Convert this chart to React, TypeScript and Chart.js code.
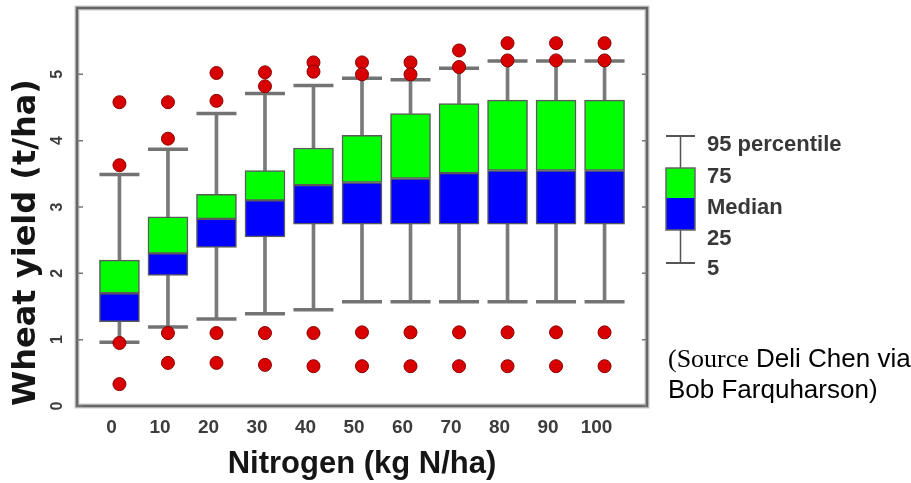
import React, { useEffect, useRef } from "react";
import { Chart, registerables } from "chart.js";
Chart.register(...registerables);

// ---- data ----
const nitrogen = [0, 10, 20, 30, 40, 50, 60, 70, 80, 90, 100];
const p5 = [0.96, 1.19, 1.31, 1.39, 1.45, 1.57, 1.57, 1.57, 1.57, 1.57, 1.57];
const q1 = [1.27, 1.97, 2.39, 2.55, 2.74, 2.74, 2.74, 2.74, 2.74, 2.74, 2.74];
const median = [1.7, 2.3, 2.82, 3.1, 3.33, 3.37, 3.43, 3.51, 3.55, 3.55, 3.55];
const q3 = [2.2, 2.85, 3.19, 3.55, 3.89, 4.08, 4.41, 4.56, 4.61, 4.61, 4.61];
const p95 = [3.49, 3.87, 4.41, 4.71, 4.83, 4.94, 4.92, 5.09, 5.2, 5.2, 5.2];
const outliers = [
  [4.58, 3.63, 0.95, 0.33],
  [4.58, 4.03, 1.1, 0.65],
  [5.02, 4.6, 1.1, 0.65],
  [5.03, 4.82, 1.1, 0.62],
  [5.18, 5.04, 1.1, 0.6],
  [5.18, 5.0, 1.11, 0.6],
  [5.18, 5.0, 1.11, 0.6],
  [5.36, 5.11, 1.11, 0.6],
  [5.47, 5.21, 1.11, 0.6],
  [5.47, 5.21, 1.11, 0.6],
  [5.47, 5.21, 1.11, 0.6],
];
const yTicks = [0, 1, 2, 3, 4, 5];
const legendLabels = ["95 percentile", "75", "Median", "25", "5"];
const xTitle = "Nitrogen (kg N/ha)";
const yTitle = "Wheat yield (t/ha)";

const framePlugin = {
  id: "frame",
  beforeDatasetsDraw(chart: any) {
    const { ctx, chartArea: a } = chart;
    ctx.save();
    ctx.strokeStyle = "#c9c9c9";
    ctx.lineWidth = 5;
    ctx.strokeRect(a.left, a.top, a.right - a.left, a.bottom - a.top);
    ctx.strokeStyle = "#666";
    ctx.lineWidth = 2.5;
    ctx.strokeRect(a.left, a.top, a.right - a.left, a.bottom - a.top);
    const ys = chart.scales.y;
    ctx.strokeStyle = "#777";
    ctx.lineWidth = 1.5;
    ys.ticks.forEach((t: any) => {
      const py = ys.getPixelForValue(t.value);
      ctx.beginPath();
      ctx.moveTo(a.left, py);
      ctx.lineTo(a.left + 6, py);
      ctx.moveTo(a.right - 5, py);
      ctx.lineTo(a.right, py);
      ctx.stroke();
    });
    ctx.restore();
  },
};

const legendPlugin = {
  id: "boxLegend",
  afterDraw(chart: any) {
    const { ctx, chartArea: a } = chart;
    const x0 = a.right + 19;
    const x1 = a.right + 48;
    const cx = (x0 + x1) / 2;
    const yCapTop = 136, yQ3 = 168, yMed = 198, yQ1 = 230, yCapBot = 263;
    ctx.save();
    ctx.strokeStyle = "#555";
    ctx.lineWidth = 1.5;
    ctx.beginPath();
    ctx.moveTo(cx, yCapTop);
    ctx.lineTo(cx, yQ3);
    ctx.moveTo(cx, yQ1);
    ctx.lineTo(cx, yCapBot);
    ctx.stroke();
    ctx.lineWidth = 2;
    ctx.beginPath();
    ctx.moveTo(x0, yCapTop);
    ctx.lineTo(x1, yCapTop);
    ctx.moveTo(x0, yCapBot);
    ctx.lineTo(x1, yCapBot);
    ctx.stroke();
    ctx.fillStyle = "#00ff00";
    ctx.fillRect(x0, yQ3, x1 - x0, yMed - yQ3);
    ctx.fillStyle = "#0000ff";
    ctx.fillRect(x0, yMed, x1 - x0, yQ1 - yMed);
    ctx.strokeStyle = "#666";
    ctx.lineWidth = 1.5;
    ctx.strokeRect(x0, yQ3, x1 - x0, yQ1 - yQ3);
    ctx.fillStyle = "#383838";
    ctx.font = "bold 22px 'Liberation Sans', Arial, sans-serif";
    ctx.textBaseline = "middle";
    ctx.textAlign = "left";
    const labelYs = [145, 177, 208, 239, 269];
    legendLabels.forEach((t, i) => ctx.fillText(t, a.right + 60, labelYs[i]));
    ctx.restore();
  },
};

const zeroPad = (s: any) => {
  s.paddingLeft = s.paddingRight = s.paddingTop = s.paddingBottom = 0;
};

export default function App() {
  const ref = useRef<HTMLCanvasElement | null>(null);
  useEffect(() => {
    if (!ref.current) return;
    const outlierPts: { x: number; y: number }[] = [];
    outliers.forEach((arr, i) => arr.forEach((v) => outlierPts.push({ x: nitrogen[i], y: v })));
    const capPts = nitrogen.flatMap((n, i) => [
      { x: n, y: p95[i] },
      { x: n, y: p5[i] },
    ]);
    const chart = new Chart(ref.current, {
      type: "bar",
      data: {
        datasets: [
          {
            type: "scatter",
            label: "Outliers",
            data: outlierPts,
            pointRadius: 6.5,
            pointHoverRadius: 6.5,
            backgroundColor: "#d80000",
            borderColor: "#8a0000",
            borderWidth: 1,
            order: 0,
          } as any,
          {
            type: "scatter",
            label: "Caps",
            data: capPts,
            pointStyle: "line",
            pointRadius: 20,
            pointHoverRadius: 20,
            borderColor: "#737373",
            borderWidth: 3.5,
            order: 1,
          } as any,
          {
            label: "75",
            data: nitrogen.map((n, i) => ({ x: n, y: [median[i], q3[i]] })),
            backgroundColor: "#00ff00",
            borderColor: "#5a5a5a",
            borderWidth: 1.5,
            borderSkipped: false,
            barThickness: 40,
            grouped: false,
            order: 2,
          } as any,
          {
            label: "25",
            data: nitrogen.map((n, i) => ({ x: n, y: [q1[i], median[i]] })),
            backgroundColor: "#0000ff",
            borderColor: "#5a5a5a",
            borderWidth: 1.5,
            borderSkipped: false,
            barThickness: 40,
            grouped: false,
            order: 2,
          } as any,
          {
            label: "Upper whisker",
            data: nitrogen.map((n, i) => ({ x: n, y: [q3[i], p95[i]] })),
            backgroundColor: "#7a7a7a",
            borderWidth: 0,
            barThickness: 3,
            grouped: false,
            order: 3,
          } as any,
          {
            label: "Lower whisker",
            data: nitrogen.map((n, i) => ({ x: n, y: [p5[i], q1[i]] })),
            backgroundColor: "#7a7a7a",
            borderWidth: 0,
            barThickness: 3,
            grouped: false,
            order: 3,
          } as any,
        ],
      },
      options: {
        animation: false,
        responsive: false,
        maintainAspectRatio: false,
        layout: { autoPadding: false, padding: { top: 8, right: 264, left: 0, bottom: 0 } },
        plugins: { legend: { display: false }, title: { display: false }, tooltip: { enabled: false } },
        scales: {
          x: {
            type: "linear",
            min: -8.75,
            max: 108.75,
            offset: false,
            grid: { display: false, drawTicks: false },
            border: { display: false },
            afterBuildTicks: (s: any) => {
              s.ticks = nitrogen.map((v) => ({ value: v }));
            },
            afterFit: (s: any) => {
              s.height = 77;
              zeroPad(s);
            },
            ticks: {
              padding: 10,
              labelOffset: -8,
              color: "#3c3c3c",
              font: { family: "'Liberation Sans', Arial, sans-serif", size: 19, weight: "bold" },
              maxRotation: 0,
              autoSkip: false,
            },
            title: {
              display: true,
              text: xTitle,
              color: "#151515",
              font: { family: "'Liberation Sans', Arial, sans-serif", size: 31, weight: "bold" },
              padding: { top: 0, bottom: 0 },
            },
          },
          y: {
            type: "linear",
            min: 0,
            max: 6,
            grid: { display: false, drawTicks: false },
            border: { display: false },
            afterBuildTicks: (s: any) => {
              s.ticks = yTicks.map((v) => ({ value: v }));
            },
            afterFit: (s: any) => {
              s.width = 77;
              zeroPad(s);
            },
            ticks: {
              padding: 15,
              minRotation: 90,
              maxRotation: 90,
              crossAlign: "center",
              color: "#3c3c3c",
              font: { family: "'Liberation Sans', Arial, sans-serif", size: 16, weight: "bold" },
            },
            title: {
              display: true,
              text: yTitle,
              align: "start",
              color: "#151515",
              font: { family: "'DejaVu Sans', sans-serif", size: 32, weight: "bold" },
              padding: { top: 7, bottom: 0 },
            },
          },
        },
      } as any,
      plugins: [framePlugin, legendPlugin],
    });
    return () => chart.destroy();
  }, []);

  return (
    <div style={{ position: "fixed", left: 0, top: 0, width: 911, height: 483, background: "#fff" }}>
      <canvas ref={ref} width={911} height={483} style={{ display: "block" }} />
      <div
        style={{
          position: "absolute",
          left: 668,
          top: 343,
          fontFamily: "'Liberation Sans', Arial, sans-serif",
          fontSize: 26,
          lineHeight: "30px",
          color: "#000",
          whiteSpace: "nowrap",
        }}
      >
        <span style={{ fontFamily: "'Liberation Serif', 'Times New Roman', serif" }}>(Source</span> Deli Chen via
        <br />
        Bob Farquharson)
      </div>
    </div>
  );
}
